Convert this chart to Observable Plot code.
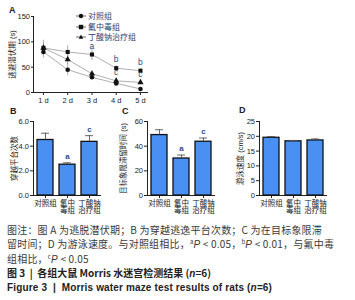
<!DOCTYPE html>
<html><head><meta charset="utf-8">
<script src="https://cdn.jsdelivr.net/npm/d3@7"></script>
<script src="https://cdn.jsdelivr.net/npm/@observablehq/plot@0.6"></script>
<style>
body{margin:0;background:#fff;}
#root{position:relative;width:355px;height:300px;overflow:hidden;font-family:'Liberation Sans','Noto Sans CJK SC',sans-serif;color:#222;}
.panel{position:absolute;}
.plabel{position:absolute;font-weight:bold;font-size:9px;color:#222;line-height:1;}
#legend{position:absolute;left:75px;top:11px;font-size:8px;color:#2f3f6f;font-family:'Noto Sans CJK SC',sans-serif;}
#legend .row{display:flex;align-items:center;height:10.5px;line-height:10.5px;}
#legend svg{margin-right:1px;}
#cap{position:absolute;left:7px;top:223px;font-size:10px;line-height:13.8px;font-family:'Noto Sans CJK SC',sans-serif;}
#cap .l{color:#3a3a3a;white-space:nowrap;letter-spacing:0.2px;}
#cap .t{color:#222;font-weight:bold;white-space:nowrap;}
#cap .f{color:#222;font-weight:bold;font-family:'Liberation Sans',sans-serif;white-space:nowrap;letter-spacing:0.15px;}
#cap i{font-family:'Liberation Sans',sans-serif;}
#cap sup{font-size:6px;vertical-align:4px;line-height:0;}
</style></head><body><div id="root"></div>
<script>
// ---- Panel A data ----
const days = [1, 2, 3, 4, 5];
const dayLabels = ["1 d", "2 d", "3 d", "4 d", "5 d"];
const groups = ["对照组", "氟中毒组", "丁酸钠治疗组"];
const latencyControl = [80, 45, 30, 18, 7];
const latencyFluoride = [88, 80, 75, 48, 43];
const latencyButyrate = [88, 65, 37, 23, 20];
const latencyControlSD = [12, 12, 4, 3, 2];
const latencyFluorideSD = [15, 13, 12, 5, 4];
const latencyButyrateSD = [10, 10, 5, 5, 2];
const sigDays = [3, 4, 5, 4, 5];
const sigGroups = ["氟中毒组", "氟中毒组", "氟中毒组", "丁酸钠治疗组", "丁酸钠治疗组"];
const sigLetters = ["a", "b", "b", "c", "c"];
const latencyTicks = [0, 50, 100, 150];

// ---- Bar panels data ----
const barCategories = ["对照组", "氟中毒组", "丁酸钠治疗组"];
const barTickLabels = ["对照组", "氟中\n毒组", "丁酸钠\n治疗组"];
const crossings = [4.5, 2.5, 4.35];
const crossingsSD = [0.55, 0.15, 0.5];
const crossingsSig = ["", "a", "c"];
const crossingsTicks = [0, 2, 4, 6];
const quadrantTime = [49, 30, 43.6];
const quadrantTimeSD = [4.3, 2.8, 3];
const quadrantTimeSig = ["", "a", "c"];
const quadrantTicks = [0, 20, 40, 60];
const swimSpeed = [19.5, 18.3, 18.6];
const swimSpeedSD = [0.4, 0.3, 0.5];
const swimSpeedSig = ["", "", ""];
const speedTicks = [0, 5, 10, 15, 20, 25];

const FONT = "'Liberation Sans','Noto Sans CJK SC',sans-serif";
const SIGCOLOR = "#2e4a8a";
const root = document.getElementById("root");

function place(el, left, top) {
  const d = document.createElement("div");
  d.className = "panel";
  d.style.left = left + "px";
  d.style.top = top + "px";
  d.appendChild(el);
  root.appendChild(d);
}
function panelLabel(t, left, top) {
  const d = document.createElement("div");
  d.className = "plabel";
  d.textContent = t;
  d.style.left = left + "px";
  d.style.top = top + "px";
  root.appendChild(d);
}

// ---- Panel A ----
const series = [latencyControl, latencyFluoride, latencyButyrate];
const seriesSD = [latencyControlSD, latencyFluorideSD, latencyButyrateSD];
const latency = [];
groups.forEach((g, gi) => days.forEach((d, i) => latency.push({group: g, day: d, mean: series[gi][i], sd: seriesSD[gi][i]})));
const sig = sigDays.map((d, i) => {
  const gi = groups.indexOf(sigGroups[i]);
  return {day: d, value: series[gi][days.indexOf(d)], letter: sigLetters[i]};
});

const plotA = Plot.plot({
  width: 180, height: 110,
  marginLeft: 33, marginRight: 33, marginTop: 16, marginBottom: 18,
  style: {fontFamily: FONT, fontSize: "7.5px", color: "#222", background: "transparent", overflow: "visible"},
  x: {domain: [0.59, 5.29], ticks: days, tickFormat: d => dayLabels[days.indexOf(d)], tickSize: 3, tickPadding: 2, line: true, label: null},
  y: {domain: [0, 150], ticks: latencyTicks, tickSize: 2, tickPadding: 1.5, line: true, label: "逃避潜伏期 (s)", labelAnchor: "center", labelArrow: "none", labelOffset: 24},
  symbol: {domain: groups, range: ["circle", "square", "triangle"]},
  marks: [
    Plot.ruleX(latency, {x: "day", y1: d => d.mean - d.sd, y2: d => d.mean + d.sd, stroke: "#9a9a9a", strokeWidth: 0.8}),
    Plot.line(latency, {x: "day", y: "mean", z: "group", stroke: "#b0b0b0", strokeWidth: 1}),
    Plot.dot(latency, {x: "day", y: "mean", symbol: "group", fill: "#111", r: 2.3}),
    Plot.text(sig, {x: "day", y: "value", text: "letter", dy: -8.5, fill: SIGCOLOR, fontSize: 8.5})
  ]
});
place(plotA, 0, 0);
panelLabel("A", 9, 6);

// legend for A
const legend = document.createElement("div");
legend.id = "legend";
const legendSymbols = [
  '<circle cx="6" cy="5" r="2.2" fill="#111"/>',
  '<rect x="3.8" y="2.8" width="4.4" height="4.4" fill="#111"/>',
  '<path d="M6,2.6L8.3,6.8H3.7Z" fill="#111"/>'
];
groups.forEach((g, i) => {
  const row = document.createElement("div");
  row.className = "row";
  row.innerHTML = '<svg width="12" height="10"><line x1="1" x2="11" y1="5" y2="5" stroke="#444" stroke-width="0.8"/>' + legendSymbols[i] + '</svg><span>' + g + '</span>';
  legend.appendChild(row);
});
root.appendChild(legend);

// ---- Bar panels ----
function barPanel({values, sds, sigs, ticks, domain, label, labelOffset, dy}) {
  const data = barCategories.map((c, i) => ({cat: c, v: values[i], sd: sds[i], sig: sigs[i]}));
  return Plot.plot({
    width: 115, height: 112,
    marginLeft: 33, marginRight: 15, marginTop: 16, marginBottom: 22,
    style: {fontFamily: FONT, fontSize: "7.5px", color: "#222", background: "transparent", overflow: "visible"},
    x: {domain: barCategories, paddingInner: 0.28, paddingOuter: 0.14,
        tickFormat: c => barTickLabels[barCategories.indexOf(c)], tickSize: 3, tickPadding: 2, line: true, label: null},
    y: {domain, ticks, tickSize: 3, tickPadding: 1.5, line: true, label, labelAnchor: "center", labelArrow: "none", labelOffset},
    marks: [
      Plot.barY(data, {x: "cat", y: "v", fill: "#4a8ff2", stroke: "#111", strokeWidth: 1.3}),
      Plot.ruleX(data, {x: "cat", y1: "v", y2: d => d.v + d.sd, stroke: "#555", strokeWidth: 0.9}),
      Plot.tickY(data, {x: "cat", y: d => d.v + d.sd, stroke: "#555", strokeWidth: 0.9, insetLeft: 4, insetRight: 4}),
      Plot.text(data, {x: "cat", y: d => d.v + d.sd, text: "sig", dy, fill: SIGCOLOR, fontSize: 8, fontWeight: "bold"})
    ]
  });
}

place(barPanel({values: crossings, sds: crossingsSD, sigs: crossingsSig, ticks: crossingsTicks, domain: [0, 6],
  label: "穿越平台次数", labelOffset: 22, dy: -6}), 0, 105);
panelLabel("B", 10, 107);
place(barPanel({values: quadrantTime, sds: quadrantTimeSD, sigs: quadrantTimeSig, ticks: quadrantTicks, domain: [0, 60],
  label: "目标象限滞留时间 (s)", labelOffset: 27, dy: -7}), 114, 105);
panelLabel("C", 122, 107);
place(barPanel({values: swimSpeed, sds: swimSpeedSD, sigs: swimSpeedSig, ticks: speedTicks, domain: [0, 25],
  label: "游泳速度 (cm/s)", labelOffset: 22, dy: -6}), 226, 105);
panelLabel("D", 239, 106);

// ---- Caption ----
const cap = document.createElement("div");
cap.id = "cap";
cap.innerHTML =
  '<div class="l">图注：图 A 为逃脱潜伏期；B 为穿越逃逸平台次数；C 为在目标象限滞</div>' +
  '<div class="l">留时间；D 为游泳速度。与对照组相比，<sup>a</sup><i>P</i> &lt; 0.05，<sup>b</sup><i>P</i> &lt; 0.01，与氟中毒</div>' +
  '<div class="l">组相比，<sup>c</sup><i>P</i> &lt; 0.05</div>' +
  '<div class="t">图 3 &nbsp;|&nbsp; 各组大鼠 Morris 水迷宫检测结果 (<i>n</i>=6)</div>' +
  '<div class="f">Figure 3 &nbsp;|&nbsp; Morris water maze test results of rats (<i>n</i>=6)</div>';
root.appendChild(cap);
</script>
</body></html>
